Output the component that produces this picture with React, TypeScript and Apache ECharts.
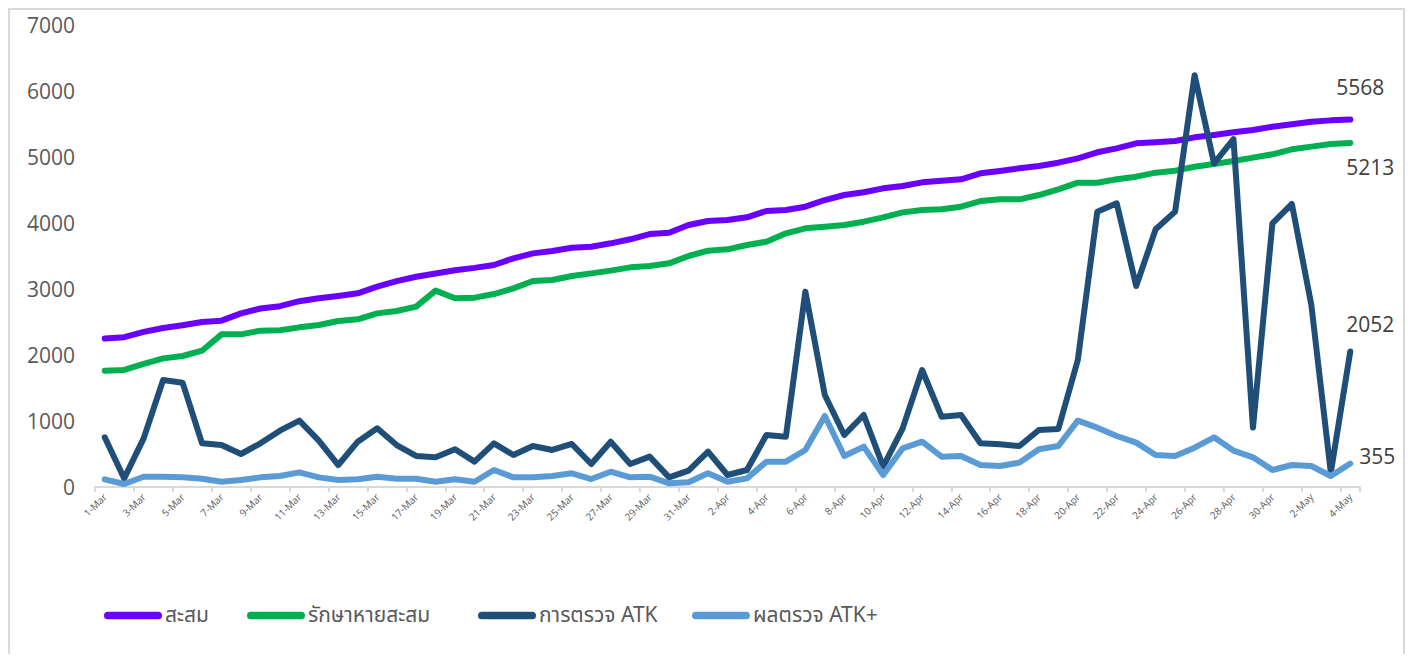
import React, { useEffect, useRef } from "react";
import * as echarts from "echarts";

const categories = [
  "1-Mar","2-Mar","3-Mar","4-Mar","5-Mar","6-Mar","7-Mar","8-Mar","9-Mar","10-Mar",
  "11-Mar","12-Mar","13-Mar","14-Mar","15-Mar","16-Mar","17-Mar","18-Mar","19-Mar","20-Mar",
  "21-Mar","22-Mar","23-Mar","24-Mar","25-Mar","26-Mar","27-Mar","28-Mar","29-Mar","30-Mar",
  "31-Mar","1-Apr","2-Apr","3-Apr","4-Apr","5-Apr","6-Apr","7-Apr","8-Apr","9-Apr",
  "10-Apr","11-Apr","12-Apr","13-Apr","14-Apr","15-Apr","16-Apr","17-Apr","18-Apr","19-Apr",
  "20-Apr","21-Apr","22-Apr","23-Apr","24-Apr","25-Apr","26-Apr","27-Apr","28-Apr","29-Apr",
  "30-Apr","1-May","2-May","3-May","4-May",
];

const seriesNames = ["สะสม", "รักษาหายสะสม", "การตรวจ ATK", "ผลตรวจ ATK+"];

const cumulative = [
  2250, 2270, 2350, 2410, 2450, 2500, 2520, 2630, 2705, 2740,
  2815, 2860, 2895, 2935, 3035, 3120, 3185, 3235, 3285, 3320,
  3364, 3465, 3540, 3576, 3626, 3641, 3692, 3753, 3833, 3853,
  3970, 4030, 4045, 4086, 4182, 4197, 4247, 4348, 4424, 4465,
  4525, 4561, 4616, 4640, 4662, 4753, 4788, 4829, 4864, 4914,
  4980, 5071, 5131, 5207, 5222, 5242, 5298, 5333, 5374, 5409,
  5459, 5495, 5535, 5555, 5568,
];

const recovered = [
  1762, 1773, 1864, 1949, 1985, 2065, 2313, 2313, 2369, 2374,
  2419, 2454, 2515, 2540, 2631, 2667, 2732, 2975, 2859, 2869,
  2924, 3010, 3121, 3136, 3197, 3237, 3278, 3328, 3348, 3389,
  3500, 3581, 3601, 3667, 3717, 3843, 3919, 3944, 3970, 4020,
  4086, 4161, 4197, 4207, 4247, 4333, 4359, 4359, 4424, 4510,
  4611, 4611, 4662, 4702, 4763, 4793, 4853, 4894, 4939, 4990,
  5041, 5116, 5157, 5197, 5213,
];

const atkTests = [
  753, 130, 737, 1621, 1581, 662, 636, 500, 662, 853,
  1005, 702, 333, 687, 889, 636, 470, 450, 571, 384,
  662, 485, 621, 561, 652, 348, 687, 348, 460, 146,
  247, 535, 182, 258, 788, 763, 2960, 1394, 788, 1091,
  308, 889, 1773, 1065, 1091, 662, 646, 621, 864, 879,
  1924, 4172, 4298, 3045, 3904, 4172, 6240, 4904, 5270, 900,
  3995, 4288, 2758, 220, 2052,
];

const atkPositive = [
  116, 45, 156, 156, 146, 126, 80, 106, 146, 166,
  222, 146, 106, 116, 156, 126, 126, 80, 116, 80,
  258, 146, 146, 166, 207, 121, 232, 146, 156, 56,
  71, 207, 80, 131, 384, 384, 561, 1076, 470, 611,
  182, 586, 687, 460, 470, 333, 318, 369, 571, 621,
  1005, 899, 773, 672, 485, 470, 596, 753, 551, 450,
  258, 333, 318, 167, 355,
];

const colors = ["#6a00ff", "#00b050", "#1f4e79", "#5b9bd5"];
const endOffsets = [
  [-22, -33],
  [-12, 24],
  [-12, -28],
  [1, -8],
];
const legendLefts = [89, 232, 463, 677];

const FONT = "'Open Sans', 'Noto Sans', sans-serif";
const THAI_FONT = "'Noto Sans Thai', 'Noto Sans Thai UI', 'Tlwg Typist', 'Loma', 'Garuda', 'Norasi', 'DejaVu Sans', sans-serif";

export default function App() {
  const ref = useRef<HTMLDivElement>(null);

  useEffect(() => {
    if (!ref.current) return;
    const chart = echarts.init(ref.current, undefined, { renderer: "svg" });
    const dataSets = [cumulative, recovered, atkTests, atkPositive];
    const stadium = "path://M4,0 L56,0 A4,4 0 0 1 56,8 L4,8 A4,4 0 0 1 4,0 Z";

    chart.setOption({
      animation: false,
      grid: { left: 85, right: 43, top: 15, bottom: 167, containLabel: false },
      legend: seriesNames.map((n, i) => ({
        data: [n],
        left: legendLefts[i],
        top: 590,
        icon: stadium,
        itemWidth: 58,
        itemHeight: 8,
        itemGap: 5,
        selectedMode: false,
        textStyle: { fontSize: 21, color: "#595959", fontFamily: THAI_FONT, padding: [0, 0, 0, -2] },
      })),
      xAxis: {
        type: "category",
        data: categories,
        boundaryGap: true,
        axisLine: { show: true, lineStyle: { color: "#d9d9d9", width: 2 } },
        axisTick: { show: true, interval: 1, length: 5, lineStyle: { color: "#d9d9d9", width: 2 } },
        axisLabel: {
          interval: 1,
          rotate: 45,
          fontSize: 10,
          color: "#595959",
          fontFamily: FONT,
          margin: 8,
        },
        splitLine: { show: false },
      },
      yAxis: {
        type: "value",
        min: 0,
        max: 7000,
        interval: 1000,
        axisLine: { show: false },
        axisTick: { show: false },
        splitLine: { show: false },
        axisLabel: {
          fontSize: 21,
          color: "#595959",
          fontFamily: FONT,
          margin: 20,
          formatter: (v: number) => String(v),
        },
      },
      series: seriesNames.map((n, i) => ({
        name: n,
        type: "line",
        data: dataSets[i],
        showSymbol: false,
        symbol: "none",
        lineStyle: { color: colors[i], width: 6, join: "round", cap: "round" },
        itemStyle: { color: colors[i] },
        endLabel: {
          show: true,
          formatter: (p: any) => String(p.value),
          fontSize: 21,
          color: "#404040",
          fontFamily: FONT,
          offset: endOffsets[i],
        },
        emphasis: { disabled: true },
        z: 2 + i,
      })),
    });

    return () => chart.dispose();
  }, []);

  return (
    <div
      style={{
        width: 1397,
        height: 646,
        borderTop: "2px solid #d9d9d9",
        borderLeft: "2px solid #d9d9d9",
        borderRight: "2px solid #d9d9d9",
        boxSizing: "border-box",
        overflow: "hidden",
      }}
    >
      <div ref={ref} style={{ width: 1393, height: 644 }} />
    </div>
  );
}
